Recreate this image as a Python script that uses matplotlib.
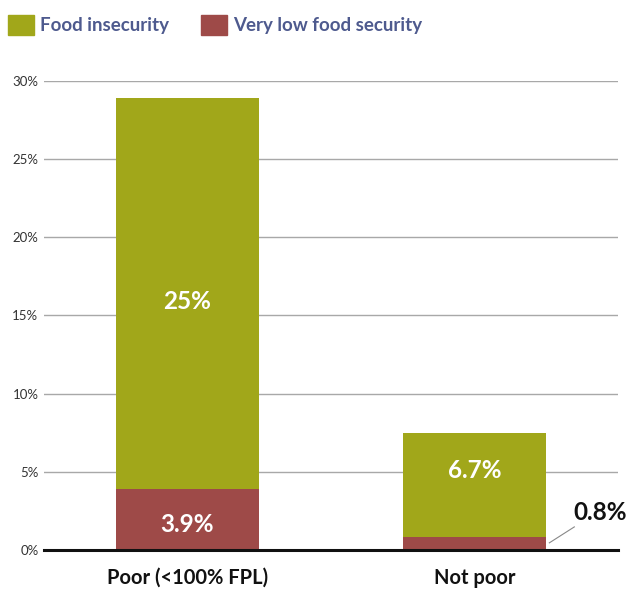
import matplotlib.pyplot as plt
from matplotlib.patches import Rectangle
import numpy as np

plt.rcParams['font.family'] = ['Lato', 'DejaVu Sans']

groups = ['Poor (<100% FPL)', 'Not poor']
very_low = [3.9, 0.8]
insecure = [25.0, 6.7]
val_labels_low = ['3.9%', '0.8%']
val_labels_ins = ['25%', '6.7%']
series_names = ['Food insecurity', 'Very low food security']

green = '#A1A71A'
red = '#9E4A48'
legend_blue = '#4E5A8E'

W, H = 628, 590
fig = plt.figure(figsize=(W / 100, H / 100), dpi=100)
ax = fig.add_axes([0.070, 0.068, 0.914, 0.795])

x = np.arange(len(groups))
w = 0.5
ax.bar(x, very_low, w, color=red, zorder=3)
ax.bar(x, insecure, w, bottom=very_low, color=green, zorder=3)

ax.set_xlim(-0.5, 1.5)
ax.set_ylim(0, 30)
ax.set_yticks(np.arange(0, 31, 5))
ax.set_yticklabels([f'{v}%' for v in range(0, 31, 5)], fontsize=9.5, color='#333333')
ax.yaxis.grid(True, color='#a8a8a8', linewidth=1, zorder=0)
ax.tick_params(axis='y', length=0, pad=4)
ax.tick_params(axis='x', length=0, pad=13)
ax.set_xticks(x)
ax.set_xticklabels(groups, fontsize=14.5, fontweight='bold', color='#111111')
for s in ['top', 'right', 'left']:
    ax.spines[s].set_visible(False)
ax.spines['bottom'].set_linewidth(2.2)
ax.spines['bottom'].set_color('#111111')
ax.spines['bottom'].set_zorder(4)

# labels inside the bars
ins_shift = [-0.5, 0.95]
for i in range(len(groups)):
    ax.text(x[i], very_low[i] + insecure[i] / 2 + ins_shift[i], val_labels_ins[i], ha='center',
            va='center', color='white', fontsize=17.5, fontweight='bold', zorder=5)
ax.text(x[0], very_low[0] / 2 - 0.3, val_labels_low[0], ha='center', va='center',
        color='white', fontsize=17.5, fontweight='bold', zorder=5)
# small segment gets a callout
ax.plot([1.261, 1.348], [0.45, 1.47], color='#888888', lw=0.8, zorder=5, clip_on=False)
ax.text(1.437, 2.37, val_labels_low[1], ha='center', va='center',
        fontsize=17.5, fontweight='bold', color='#111111', zorder=5, clip_on=False)

# legend across the top
for (x0, tx), name, col in zip([(8, 40), (201, 233)], series_names, [green, red]):
    fig.patches.append(Rectangle((x0 / W, 1 - 35 / H), 26 / W, 20 / H,
                                 transform=fig.transFigure, color=col))
    fig.text(tx / W, 1 - 25 / H, name, ha='left', va='center', fontsize=13.5,
             fontweight='bold', color=legend_blue)

fig.savefig('out.png', dpi=100)
